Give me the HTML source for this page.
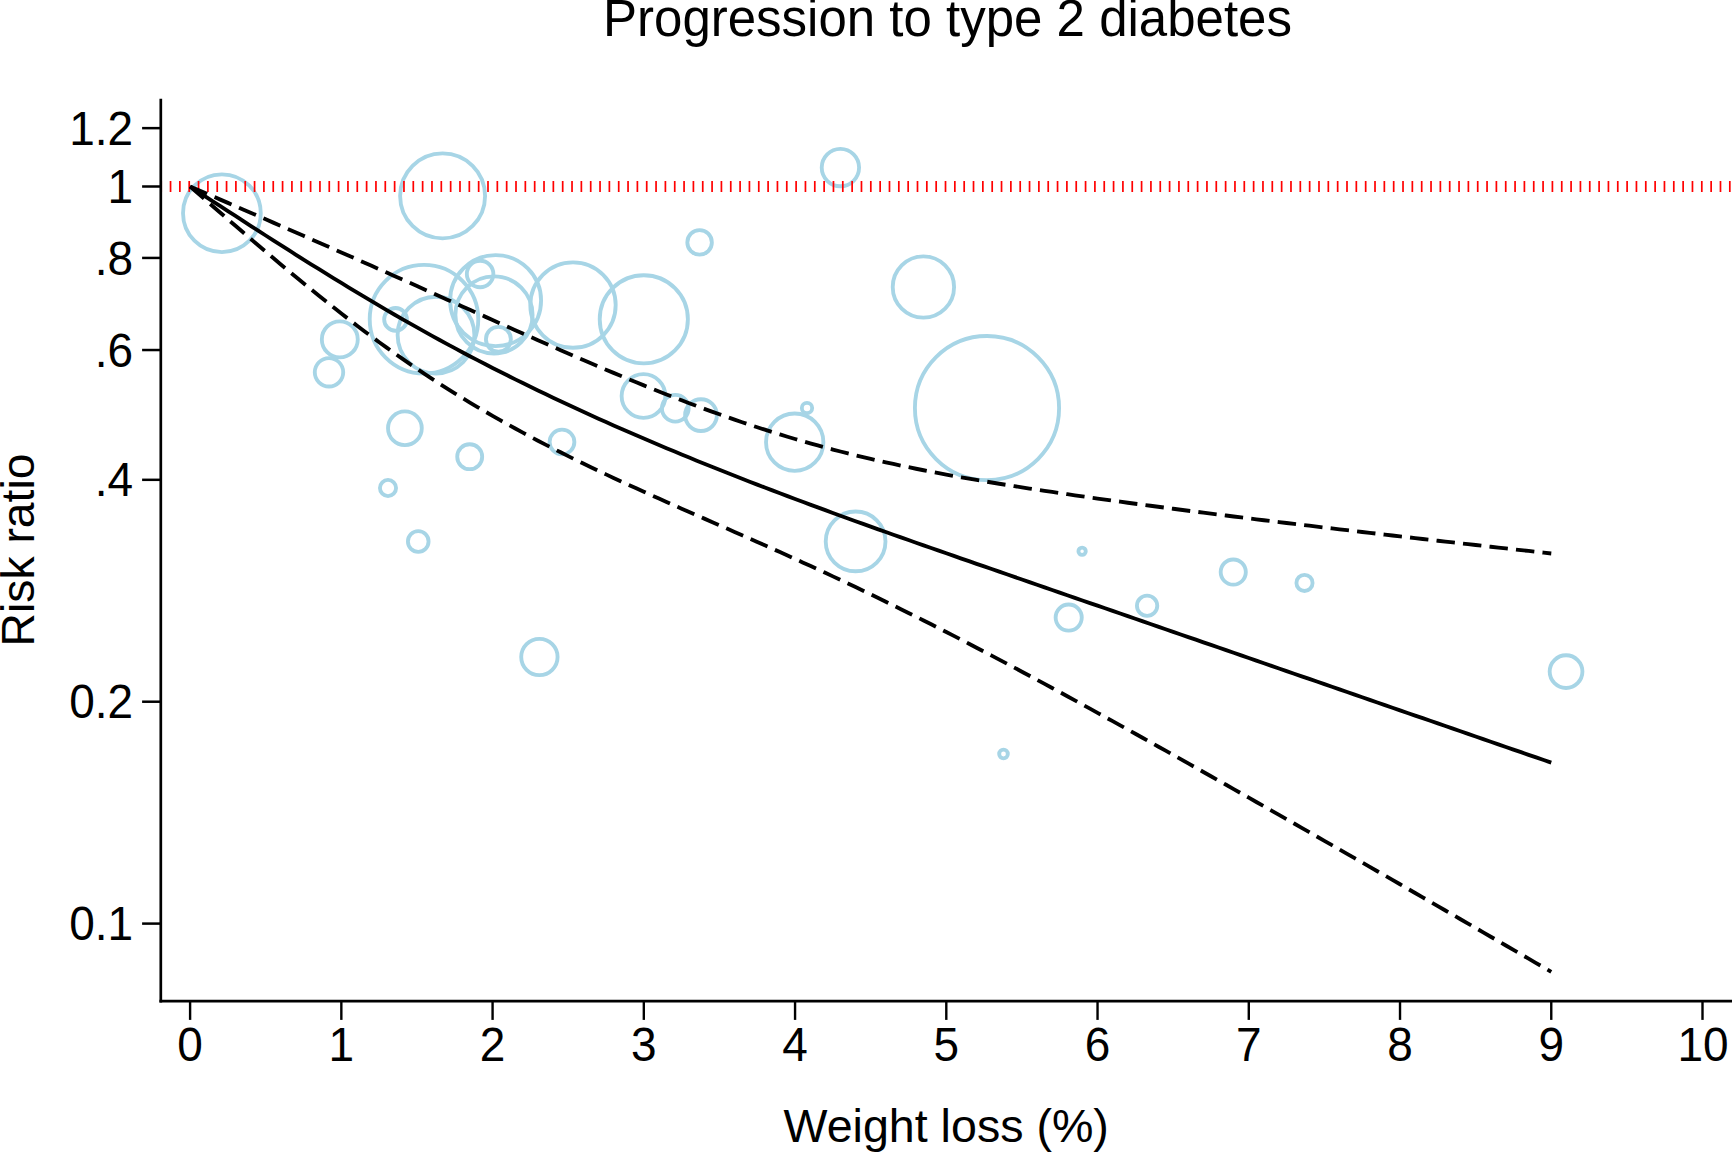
<!DOCTYPE html>
<html lang="en"><head><meta charset="utf-8"><title>Progression to type 2 diabetes</title>
<style>html,body{margin:0;padding:0;background:#fff}svg{display:block}text{font-family:"Liberation Sans",sans-serif;fill:#000}</style></head><body>
<svg width="1732" height="1152" viewBox="0 0 1732 1152">
<rect width="1732" height="1152" fill="#fff"/>
<text x="947.5" y="36.2" font-size="51" text-anchor="middle">Progression to type 2 diabetes</text>
<g fill="none" stroke="#a7d5e6" stroke-width="3.85">
<circle cx="221.90" cy="213.20" r="38.88"/>
<circle cx="442.60" cy="195.90" r="42.48"/>
<circle cx="699.60" cy="242.40" r="12.27"/>
<circle cx="424.00" cy="319.20" r="54.28"/>
<circle cx="436.00" cy="335.10" r="38.38"/>
<circle cx="395.55" cy="319.40" r="11.38"/>
<circle cx="339.80" cy="339.40" r="17.97"/>
<circle cx="329.00" cy="372.30" r="14.22"/>
<circle cx="495.60" cy="300.60" r="45.48"/>
<circle cx="494.00" cy="314.90" r="38.58"/>
<circle cx="480.10" cy="274.00" r="13.27"/>
<circle cx="498.40" cy="339.30" r="12.47"/>
<circle cx="573.00" cy="305.10" r="42.68"/>
<circle cx="643.80" cy="319.30" r="44.08"/>
<circle cx="643.50" cy="396.00" r="21.88"/>
<circle cx="404.90" cy="428.30" r="16.88"/>
<circle cx="469.70" cy="456.70" r="12.47"/>
<circle cx="388.00" cy="488.00" r="8.07"/>
<circle cx="418.25" cy="541.50" r="10.32"/>
<circle cx="562.00" cy="442.00" r="12.38"/>
<circle cx="675.30" cy="408.20" r="13.38"/>
<circle cx="701.00" cy="415.10" r="15.88"/>
<circle cx="539.40" cy="657.00" r="18.18"/>
<circle cx="855.60" cy="541.40" r="29.88"/>
<circle cx="840.40" cy="167.60" r="18.68"/>
<circle cx="923.40" cy="287.00" r="30.68"/>
<circle cx="987.00" cy="408.10" r="72.08"/>
<circle cx="794.70" cy="442.20" r="28.68"/>
<circle cx="807.00" cy="408.10" r="5.17"/>
<circle cx="1082.10" cy="551.25" r="3.67"/>
<circle cx="1068.70" cy="617.60" r="13.07"/>
<circle cx="1233.25" cy="572.10" r="12.57"/>
<circle cx="1304.50" cy="582.90" r="8.07"/>
<circle cx="1147.10" cy="605.75" r="10.17"/>
<circle cx="1003.50" cy="754.00" r="4.33"/>
<circle cx="1566.05" cy="671.60" r="16.38"/>
</g>
<line x1="160.35" y1="186.5" x2="1732" y2="186.5" stroke="#ff0000" stroke-width="10.8" stroke-dasharray="1.7 7.637"/>
<g fill="none" stroke="#000" stroke-width="3.85">
<path d="M190.10 186.50 L197.66 189.78 L205.22 193.05 L212.79 196.33 L220.35 199.61 L227.91 202.89 L235.47 206.17 L243.03 209.45 L250.60 212.74 L258.16 216.02 L265.72 219.32 L273.28 222.61 L280.84 225.91 L288.41 229.21 L295.97 232.51 L303.53 235.82 L311.09 239.14 L318.65 242.46 L326.22 245.78 L333.78 249.11 L341.34 252.44 L348.90 255.78 L356.46 259.13 L364.03 262.48 L371.59 265.83 L379.15 269.19 L386.71 272.56 L394.27 275.93 L401.84 279.31 L409.40 282.69 L416.96 286.07 L424.52 289.46 L432.08 292.85 L439.65 296.25 L447.21 299.65 L454.77 303.04 L462.33 306.44 L469.89 309.83 L477.46 313.23 L485.02 316.62 L492.58 320.01 L500.14 323.39 L507.70 326.77 L515.27 330.14 L522.83 333.51 L530.39 336.87 L537.95 340.21 L545.51 343.55 L553.08 346.87 L560.64 350.18 L568.20 353.48 L575.76 356.76 L583.32 360.03 L590.89 363.28 L598.45 366.50 L606.01 369.71 L613.57 372.89 L621.13 376.05 L628.70 379.19 L636.26 382.30 L643.82 385.38 L651.38 388.43 L658.94 391.44 L666.51 394.43 L674.07 397.38 L681.63 400.30 L689.19 403.18 L696.75 406.02 L704.32 408.82 L711.88 411.58 L719.44 414.30 L727.00 416.98 L734.56 419.61 L742.13 422.20 L749.69 424.74 L757.25 427.23 L764.81 429.68 L772.37 432.08 L779.94 434.43 L787.50 436.73 L795.06 438.98 L802.62 441.19 L810.18 443.35 L817.75 445.45 L825.31 447.51 L832.87 449.52 L840.43 451.49 L847.99 453.41 L855.56 455.28 L863.12 457.11 L870.68 458.89 L878.24 460.63 L885.80 462.33 L893.37 463.99 L900.93 465.61 L908.49 467.20 L916.05 468.74 L923.61 470.25 L931.18 471.73 L938.74 473.17 L946.30 474.58 L953.86 475.97 L961.42 477.32 L968.99 478.65 L976.55 479.96 L984.11 481.24 L991.67 482.50 L999.23 483.74 L1006.80 484.96 L1014.36 486.16 L1021.92 487.35 L1029.48 488.53 L1037.04 489.69 L1044.61 490.84 L1052.17 491.97 L1059.73 493.09 L1067.29 494.20 L1074.85 495.30 L1082.42 496.39 L1089.98 497.47 L1097.54 498.54 L1105.10 499.59 L1112.66 500.64 L1120.23 501.68 L1127.79 502.72 L1135.35 503.74 L1142.91 504.76 L1150.47 505.77 L1158.04 506.77 L1165.60 507.77 L1173.16 508.76 L1180.72 509.74 L1188.28 510.72 L1195.85 511.69 L1203.41 512.66 L1210.97 513.62 L1218.53 514.58 L1226.09 515.53 L1233.66 516.47 L1241.22 517.42 L1248.78 518.35 L1256.34 519.29 L1263.90 520.22 L1271.47 521.14 L1279.03 522.06 L1286.59 522.98 L1294.15 523.89 L1301.71 524.81 L1309.28 525.71 L1316.84 526.62 L1324.40 527.52 L1331.96 528.42 L1339.52 529.31 L1347.09 530.20 L1354.65 531.09 L1362.21 531.98 L1369.77 532.86 L1377.33 533.75 L1384.90 534.63 L1392.46 535.50 L1400.02 536.38 L1407.58 537.25 L1415.14 538.12 L1422.71 538.99 L1430.27 539.86 L1437.83 540.72 L1445.39 541.58 L1452.95 542.44 L1460.52 543.30 L1468.08 544.16 L1475.64 545.02 L1483.20 545.87 L1490.76 546.72 L1498.33 547.57 L1505.89 548.42 L1513.45 549.27 L1521.01 550.12 L1528.57 550.96 L1536.14 551.80 L1543.70 552.65 L1551.26 553.49" stroke-dasharray="18.47 8.185"/>
<path d="M190.10 186.50 L197.66 193.07 L205.22 199.64 L212.79 206.21 L220.35 212.76 L227.91 219.30 L235.47 225.82 L243.03 232.32 L250.60 238.80 L258.16 245.25 L265.72 251.68 L273.28 258.07 L280.84 264.42 L288.41 270.73 L295.97 277.00 L303.53 283.22 L311.09 289.39 L318.65 295.51 L326.22 301.58 L333.78 307.58 L341.34 313.52 L348.90 319.40 L356.46 325.20 L364.03 330.94 L371.59 336.60 L379.15 342.18 L386.71 347.68 L394.27 353.09 L401.84 358.42 L409.40 363.66 L416.96 368.81 L424.52 373.88 L432.08 378.86 L439.65 383.75 L447.21 388.57 L454.77 393.31 L462.33 397.96 L469.89 402.55 L477.46 407.06 L485.02 411.49 L492.58 415.86 L500.14 420.16 L507.70 424.39 L515.27 428.56 L522.83 432.66 L530.39 436.71 L537.95 440.70 L545.51 444.63 L553.08 448.51 L560.64 452.34 L568.20 456.13 L575.76 459.86 L583.32 463.55 L590.89 467.20 L598.45 470.81 L606.01 474.38 L613.57 477.92 L621.13 481.43 L628.70 484.91 L636.26 488.36 L643.82 491.78 L651.38 495.19 L658.94 498.58 L666.51 501.95 L674.07 505.30 L681.63 508.65 L689.19 511.98 L696.75 515.31 L704.32 518.63 L711.88 521.96 L719.44 525.28 L727.00 528.60 L734.56 531.93 L742.13 535.27 L749.69 538.61 L757.25 541.96 L764.81 545.33 L772.37 548.71 L779.94 552.10 L787.50 555.51 L795.06 558.94 L802.62 562.39 L810.18 565.85 L817.75 569.34 L825.31 572.84 L832.87 576.37 L840.43 579.92 L847.99 583.49 L855.56 587.09 L863.12 590.71 L870.68 594.35 L878.24 598.02 L885.80 601.70 L893.37 605.41 L900.93 609.15 L908.49 612.91 L916.05 616.68 L923.61 620.48 L931.18 624.31 L938.74 628.15 L946.30 632.01 L953.86 635.90 L961.42 639.80 L968.99 643.73 L976.55 647.67 L984.11 651.63 L991.67 655.61 L999.23 659.60 L1006.80 663.61 L1014.36 667.64 L1021.92 671.68 L1029.48 675.74 L1037.04 679.81 L1044.61 683.90 L1052.17 688.00 L1059.73 692.11 L1067.29 696.23 L1074.85 700.36 L1082.42 704.51 L1089.98 708.66 L1097.54 712.83 L1105.10 717.00 L1112.66 721.18 L1120.23 725.37 L1127.79 729.57 L1135.35 733.78 L1142.91 738.00 L1150.47 742.22 L1158.04 746.45 L1165.60 750.68 L1173.16 754.93 L1180.72 759.18 L1188.28 763.43 L1195.85 767.69 L1203.41 771.96 L1210.97 776.23 L1218.53 780.51 L1226.09 784.79 L1233.66 789.07 L1241.22 793.36 L1248.78 797.66 L1256.34 801.96 L1263.90 806.26 L1271.47 810.57 L1279.03 814.88 L1286.59 819.19 L1294.15 823.51 L1301.71 827.84 L1309.28 832.16 L1316.84 836.49 L1324.40 840.82 L1331.96 845.15 L1339.52 849.49 L1347.09 853.83 L1354.65 858.18 L1362.21 862.52 L1369.77 866.87 L1377.33 871.22 L1384.90 875.57 L1392.46 879.93 L1400.02 884.29 L1407.58 888.65 L1415.14 893.01 L1422.71 897.37 L1430.27 901.74 L1437.83 906.11 L1445.39 910.48 L1452.95 914.85 L1460.52 919.22 L1468.08 923.60 L1475.64 927.97 L1483.20 932.35 L1490.76 936.73 L1498.33 941.11 L1505.89 945.50 L1513.45 949.88 L1521.01 954.27 L1528.57 958.66 L1536.14 963.05 L1543.70 967.44 L1551.26 971.83" stroke-dasharray="18.47 8.185"/>
<path d="M190.10 186.50 L197.66 191.42 L205.22 196.35 L212.79 201.27 L220.35 206.18 L227.91 211.09 L235.47 215.99 L243.03 220.89 L250.60 225.77 L258.16 230.64 L265.72 235.50 L273.28 240.34 L280.84 245.16 L288.41 249.97 L295.97 254.76 L303.53 259.52 L311.09 264.27 L318.65 268.99 L326.22 273.68 L333.78 278.34 L341.34 282.98 L348.90 287.59 L356.46 292.16 L364.03 296.71 L371.59 301.21 L379.15 305.68 L386.71 310.12 L394.27 314.51 L401.84 318.86 L409.40 323.17 L416.96 327.44 L424.52 331.67 L432.08 335.86 L439.65 340.00 L447.21 344.11 L454.77 348.17 L462.33 352.20 L469.89 356.19 L477.46 360.14 L485.02 364.06 L492.58 367.93 L500.14 371.77 L507.70 375.58 L515.27 379.35 L522.83 383.09 L530.39 386.79 L537.95 390.46 L545.51 394.09 L553.08 397.69 L560.64 401.26 L568.20 404.80 L575.76 408.31 L583.32 411.79 L590.89 415.24 L598.45 418.66 L606.01 422.05 L613.57 425.41 L621.13 428.74 L628.70 432.05 L636.26 435.33 L643.82 438.58 L651.38 441.81 L658.94 445.01 L666.51 448.19 L674.07 451.34 L681.63 454.47 L689.19 457.58 L696.75 460.67 L704.32 463.73 L711.88 466.77 L719.44 469.79 L727.00 472.79 L734.56 475.77 L742.13 478.73 L749.69 481.67 L757.25 484.60 L764.81 487.50 L772.37 490.39 L779.94 493.27 L787.50 496.12 L795.06 498.96 L802.62 501.79 L810.18 504.60 L817.75 507.39 L825.31 510.18 L832.87 512.95 L840.43 515.71 L847.99 518.45 L855.56 521.19 L863.12 523.91 L870.68 526.62 L878.24 529.33 L885.80 532.02 L893.37 534.70 L900.93 537.38 L908.49 540.05 L916.05 542.71 L923.61 545.37 L931.18 548.02 L938.74 550.66 L946.30 553.30 L953.86 555.93 L961.42 558.56 L968.99 561.19 L976.55 563.81 L984.11 566.43 L991.67 569.05 L999.23 571.67 L1006.80 574.29 L1014.36 576.90 L1021.92 579.52 L1029.48 582.13 L1037.04 584.75 L1044.61 587.37 L1052.17 589.98 L1059.73 592.60 L1067.29 595.22 L1074.85 597.83 L1082.42 600.45 L1089.98 603.06 L1097.54 605.68 L1105.10 608.30 L1112.66 610.91 L1120.23 613.53 L1127.79 616.15 L1135.35 618.76 L1142.91 621.38 L1150.47 623.99 L1158.04 626.61 L1165.60 629.23 L1173.16 631.84 L1180.72 634.46 L1188.28 637.08 L1195.85 639.69 L1203.41 642.31 L1210.97 644.92 L1218.53 647.54 L1226.09 650.16 L1233.66 652.77 L1241.22 655.39 L1248.78 658.01 L1256.34 660.62 L1263.90 663.24 L1271.47 665.86 L1279.03 668.47 L1286.59 671.09 L1294.15 673.70 L1301.71 676.32 L1309.28 678.94 L1316.84 681.55 L1324.40 684.17 L1331.96 686.79 L1339.52 689.40 L1347.09 692.02 L1354.65 694.63 L1362.21 697.25 L1369.77 699.87 L1377.33 702.48 L1384.90 705.10 L1392.46 707.72 L1400.02 710.33 L1407.58 712.95 L1415.14 715.56 L1422.71 718.18 L1430.27 720.80 L1437.83 723.41 L1445.39 726.03 L1452.95 728.65 L1460.52 731.26 L1468.08 733.88 L1475.64 736.49 L1483.20 739.11 L1490.76 741.73 L1498.33 744.34 L1505.89 746.96 L1513.45 749.58 L1521.01 752.19 L1528.57 754.81 L1536.14 757.42 L1543.70 760.04 L1551.26 762.66"/>
</g>
<g stroke="#000" fill="none">
<line x1="160.8" y1="98.7" x2="160.8" y2="1002.5" stroke-width="2.7"/>
<line x1="159.45" y1="1001.15" x2="1732" y2="1001.15" stroke-width="2.7"/>
<line x1="190.10" y1="1001" x2="190.10" y2="1019.9" stroke-width="2.4"/>
<line x1="341.34" y1="1001" x2="341.34" y2="1019.9" stroke-width="2.4"/>
<line x1="492.58" y1="1001" x2="492.58" y2="1019.9" stroke-width="2.4"/>
<line x1="643.82" y1="1001" x2="643.82" y2="1019.9" stroke-width="2.4"/>
<line x1="795.06" y1="1001" x2="795.06" y2="1019.9" stroke-width="2.4"/>
<line x1="946.30" y1="1001" x2="946.30" y2="1019.9" stroke-width="2.4"/>
<line x1="1097.54" y1="1001" x2="1097.54" y2="1019.9" stroke-width="2.4"/>
<line x1="1248.78" y1="1001" x2="1248.78" y2="1019.9" stroke-width="2.4"/>
<line x1="1400.02" y1="1001" x2="1400.02" y2="1019.9" stroke-width="2.4"/>
<line x1="1551.26" y1="1001" x2="1551.26" y2="1019.9" stroke-width="2.4"/>
<line x1="1702.50" y1="1001" x2="1702.50" y2="1019.9" stroke-width="2.4"/>
<line x1="142.1" y1="128.14" x2="160" y2="128.14" stroke-width="2.5"/>
<line x1="142.1" y1="186.50" x2="160" y2="186.50" stroke-width="2.5"/>
<line x1="142.1" y1="257.93" x2="160" y2="257.93" stroke-width="2.5"/>
<line x1="142.1" y1="350.03" x2="160" y2="350.03" stroke-width="2.5"/>
<line x1="142.1" y1="479.82" x2="160" y2="479.82" stroke-width="2.5"/>
<line x1="142.1" y1="701.71" x2="160" y2="701.71" stroke-width="2.5"/>
<line x1="142.1" y1="923.60" x2="160" y2="923.60" stroke-width="2.5"/>
</g>
<g font-size="46" text-anchor="middle">
<text transform="translate(190.10,1061.2) scale(1,1.035)">0</text>
<text transform="translate(341.34,1061.2) scale(1,1.035)">1</text>
<text transform="translate(492.58,1061.2) scale(1,1.035)">2</text>
<text transform="translate(643.82,1061.2) scale(1,1.035)">3</text>
<text transform="translate(795.06,1061.2) scale(1,1.035)">4</text>
<text transform="translate(946.30,1061.2) scale(1,1.035)">5</text>
<text transform="translate(1097.54,1061.2) scale(1,1.035)">6</text>
<text transform="translate(1248.78,1061.2) scale(1,1.035)">7</text>
<text transform="translate(1400.02,1061.2) scale(1,1.035)">8</text>
<text transform="translate(1551.26,1061.2) scale(1,1.035)">9</text>
<text transform="translate(1703.10,1061.2) scale(1,1.035)">10</text>
</g>
<g font-size="46" text-anchor="end">
<text transform="translate(133.2,144.74) scale(1,1.035)">1.2</text>
<text transform="translate(133.2,203.10) scale(1,1.035)">1</text>
<text transform="translate(133.2,274.53) scale(1,1.035)">.8</text>
<text transform="translate(133.2,366.63) scale(1,1.035)">.6</text>
<text transform="translate(133.2,496.42) scale(1,1.035)">.4</text>
<text transform="translate(133.2,718.31) scale(1,1.035)">0.2</text>
<text transform="translate(133.2,940.20) scale(1,1.035)">0.1</text>
</g>
<text x="946.2" y="1141.7" font-size="46.6" text-anchor="middle">Weight loss (%)</text>
<text transform="translate(34,550.0) rotate(-90)" font-size="46.3" text-anchor="middle">Risk ratio</text>
</svg></body></html>
